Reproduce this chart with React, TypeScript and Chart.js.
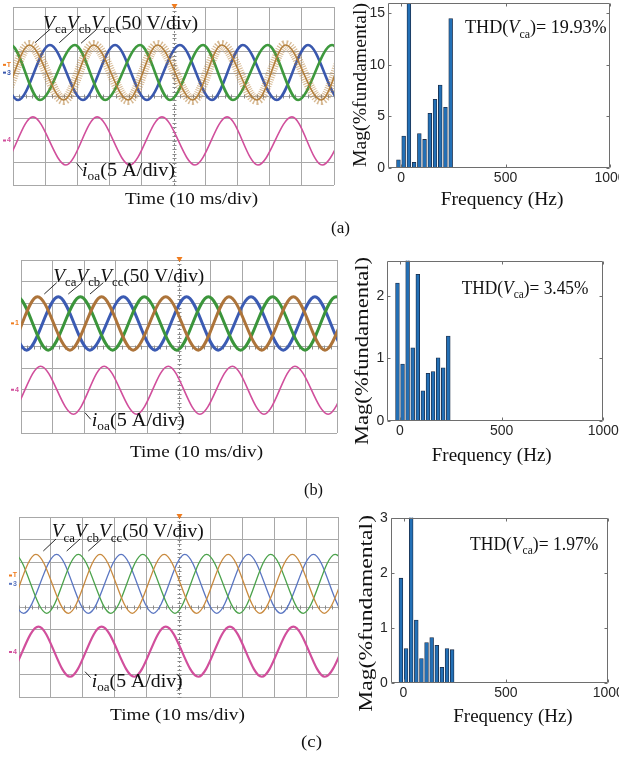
import React, { useEffect, useRef } from 'react';
import { Chart, registerables } from 'chart.js';

Chart.register(...registerables);

// ---------------- DATA ----------------
// Oscilloscope traces: times (ms) of successive extrema and their levels (div)
const A_VCA_T = [-14.3, -4.2, 5.1, 15.8, 25.1, 35.9, 45.0, 56.0, 65.0, 76.0, 84.9, 96.0, 105.0, 115.8];
const A_VCA_Y = [2.29, -0.18, 2.29, -0.18, 2.29, -0.18, 2.29, -0.18, 2.29, -0.18, 2.29, -0.18, 2.29, -0.18];
const A_VCB_T = [-18.5, -8.4, 1.6, 11.5, 21.8, 31.8, 41.7, 52.0, 62.0, 71.6, 82.2, 91.9, 102.0, 111.9];
const A_VCB_Y = [-0.18, 2.29, -0.18, 2.29, -0.18, 2.29, -0.18, 2.29, -0.18, 2.29, -0.18, 2.29, -0.18, 2.29];
const A_VCC_T = [-10.8, -0.7, 8.4, 19.3, 28.7, 39.6, 48.9, 59.2, 68.5, 79.4, 88.8, 99.4, 108.8, 119.4];
const A_VCC_Y = [-0.18, 2.29, -0.18, 2.29, -0.18, 2.29, -0.18, 2.29, -0.18, 2.29, -0.18, 2.29, -0.18, 2.29];
const A_IOA_T = [-13.7, -3.6, 6.2, 16.5, 26.2, 36.4, 46.4, 56.7, 66.7, 76.3, 86.9, 96.3, 106.9, 116.3];
const A_IOA_Y = [-0.94, -3.1, -0.94, -3.1, -0.94, -3.1, -0.94, -3.1, -0.94, -3.1, -0.94, -3.1, -0.94, -3.1];

const B_VCA_T = [-14.6, -4.5, 5.2, 15.5, 25.5, 35.5, 45.8, 56.1, 65.8, 76.2, 86.2, 96.2, 106.0, 116.2];
const B_VCA_Y = [2.3, -0.17, 2.3, -0.17, 2.3, -0.17, 2.3, -0.17, 2.3, -0.17, 2.3, -0.17, 2.3, -0.17];
const B_VCB_T = [-18.3, -8.2, 1.8, 11.8, 21.8, 32.4, 42.4, 52.4, 62.4, 72.8, 83.0, 93.0, 103.0, 113.0];
const B_VCB_Y = [-0.17, 2.3, -0.17, 2.3, -0.17, 2.3, -0.17, 2.3, -0.17, 2.3, -0.17, 2.3, -0.17, 2.3];
const B_VCC_T = [-11.3, -1.2, 8.6, 18.8, 29.0, 39.0, 49.3, 59.3, 69.5, 79.6, 89.9, 99.7, 110.0, 119.8];
const B_VCC_Y = [-0.17, 2.3, -0.17, 2.3, -0.17, 2.3, -0.17, 2.3, -0.17, 2.3, -0.17, 2.3, -0.17, 2.3];
const B_IOA_T = [-13.9, -3.8, 6.2, 16.6, 26.3, 36.6, 46.6, 56.6, 66.9, 76.9, 86.7, 97.2, 107.0, 117.2];
const B_IOA_Y = [-0.91, -3.13, -0.91, -3.13, -0.91, -3.13, -0.91, -3.13, -0.91, -3.13, -0.91, -3.13, -0.91, -3.13];

const C_VCA_T = [-14.7, -4.6, 5.3, 15.5, 25.4, 35.5, 45.5, 55.7, 65.6, 75.5, 85.7, 95.7, 105.8, 115.8];
const C_VCA_Y = [2.34, -0.28, 2.34, -0.28, 2.34, -0.28, 2.34, -0.28, 2.34, -0.28, 2.34, -0.28, 2.34, -0.28];
const C_VCB_T = [-18.4, -8.3, 1.4, 11.8, 21.7, 32.0, 42.1, 52.0, 62.0, 71.9, 82.1, 92.3, 102.3, 112.4];
const C_VCB_Y = [-0.28, 2.34, -0.28, 2.34, -0.28, 2.34, -0.28, 2.34, -0.28, 2.34, -0.28, 2.34, -0.28, 2.34];
const C_VCC_T = [-11.5, -1.4, 8.7, 18.6, 28.8, 38.8, 48.9, 58.8, 69.1, 78.9, 89.1, 99.1, 109.2, 119.1];
const C_VCC_Y = [-0.28, 2.34, -0.28, 2.34, -0.28, 2.34, -0.28, 2.34, -0.28, 2.34, -0.28, 2.34, -0.28, 2.34];
const C_IOA_T = [-14.1, -4.0, 6.1, 16.0, 25.9, 36.1, 46.0, 56.2, 66.1, 76.1, 86.0, 95.9, 106.0, 115.9];
const C_IOA_Y = [-0.87, -3.1, -0.87, -3.1, -0.87, -3.1, -0.87, -3.1, -0.87, -3.1, -0.87, -3.1, -0.87, -3.1];

// Scope axes
const SCOPE_T_MIN = 0;
const SCOPE_T_MAX = 100; // 10 divisions x 10 ms
const SCOPE_DIV_MIN = -4;
const SCOPE_DIV_MAX = 4;

// Harmonic spectra
const FREQ_HZ = [-12.5, 12.5, 37.5, 62.5, 87.5, 112.5, 137.5, 162.5, 187.5, 212.5, 237.5];
const A_MAG = [0.8, 3.1, 100, 0.55, 3.34, 2.77, 5.3, 6.66, 8.04, 5.88, 14.5];
const B_MAG = [2.21, 0.91, 100, 1.17, 2.35, 0.48, 0.76, 0.79, 1.01, 0.85, 1.36];
const C_MAG = [1.9, 0.62, 100, 1.14, 0.44, 0.73, 0.82, 0.68, 0.28, 0.62, 0.6];
const FREQ_TICKS = [0, 500, 1000];
const A_MAG_TICKS = [0, 5, 10, 15];
const B_MAG_TICKS = [0, 1, 2];
const C_MAG_TICKS = [0, 1, 2, 3];
const A_MAG_MAX = 16;
const B_MAG_MAX = 2.57;
const C_MAG_MAX = 3;
const FREQ_MIN = -62.5;
const FREQ_MAX = 1000;

const THD_A = '19.93%';
const THD_B = '3.45%';
const THD_C = '1.97%';

// ---------------- STYLE ----------------
const SERIF = '"Liberation Serif", "Times New Roman", serif';
const SANS = '"Liberation Sans", Arial, sans-serif';
const GRID = '#a8a8a8';

type Run = { t: string; i?: boolean; s?: boolean };
type TextItem = { runs: Run[]; x: number; y: number; size: number; width: number; rot?: boolean };
type Seg = [number, number, number, number];

const VLABEL: Run[] = [
  { t: 'V', i: true }, { t: 'ca', s: true },
  { t: 'V', i: true }, { t: 'cb', s: true },
  { t: 'V', i: true }, { t: 'cc', s: true },
  { t: '(50 V/div)' },
];
const ILABEL: Run[] = [{ t: 'i', i: true }, { t: 'oa', s: true }, { t: '(5 A/div)' }];
const TIME: Run[] = [{ t: 'Time (10 ms/div)' }];
const FREQ_LABEL: Run[] = [{ t: 'Frequency (Hz)' }];
const MAG_LABEL: Run[] = [{ t: 'Mag(%fundamental)' }];
const thdRuns = (v: string): Run[] => [{ t: 'THD(' }, { t: 'V', i: true }, { t: 'ca', s: true }, { t: ')= ' + v }];

function runFont(r: Run, size: number) {
  const sz = r.s ? size * 0.66 : size;
  return `${r.i ? 'italic ' : ''}${sz}px ${SERIF}`;
}

function drawTextItem(ctx: CanvasRenderingContext2D, it: TextItem, ox: number, oy: number) {
  ctx.save();
  let total = 0;
  const widths = it.runs.map((r) => {
    ctx.font = runFont(r, it.size);
    const w = ctx.measureText(r.t).width;
    total += w;
    return w;
  });
  const sx = it.width / total;
  ctx.translate(it.x - ox, it.y - oy);
  if (it.rot) ctx.rotate(-Math.PI / 2);
  ctx.scale(sx, 1);
  ctx.fillStyle = '#111';
  ctx.textBaseline = 'alphabetic';
  ctx.textAlign = 'left';
  let cx = 0;
  it.runs.forEach((r, k) => {
    ctx.font = runFont(r, it.size);
    ctx.fillText(r.t, cx, r.s ? it.size * 0.24 : 0);
    cx += widths[k];
  });
  ctx.restore();
}

function fixSize(size: number) {
  return (s: any) => {
    if (s.isHorizontal()) s.height = size;
    else s.width = size;
    s.paddingLeft = 0;
    s.paddingRight = 0;
    s.paddingTop = 0;
    s.paddingBottom = 0;
  };
}

type Wave = { t: number[]; y: number[]; color: string; width: number; dash?: number[] };
type Mark = { label: string; color: string; div: number };

type ScopeSpec = {
  kind: 'scope';
  left: number; top: number; w: number; h: number;
  pad: { left: number; right: number; top: number };
  xH: number;
  waves: Wave[];
  texts: TextItem[];
  segs: Seg[];
  marks: Mark[];
};

type BarSpec = {
  kind: 'bar';
  left: number; top: number; w: number; h: number;
  pad: { right: number; top: number };
  yW: number; xH: number;
  mag: number[]; yTicks: number[]; yMax: number;
  texts: TextItem[];
};

const BROWN_A = '#b3803e';
const BLUE_A = '#3a58ae';
const GREEN_A = '#3e993e';
const PINK = '#d14f9c';
const ORANGE = '#f07c1e';

const PANELS: (ScopeSpec | BarSpec)[] = [
  {
    kind: 'scope', left: 0, top: 0, w: 350, h: 245,
    pad: { left: 13, right: 16, top: 7 }, xH: 60,
    waves: [
      { t: A_VCA_T, y: A_VCA_Y, color: 'rgba(180,125,55,0.55)', width: 10, dash: [1, 1.3] },
      { t: A_VCA_T, y: A_VCA_Y, color: BROWN_A, width: 1.6 },
      { t: A_VCC_T, y: A_VCC_Y, color: GREEN_A, width: 2.6 },
      { t: A_VCB_T, y: A_VCB_Y, color: BLUE_A, width: 2.6 },
      { t: A_IOA_T, y: A_IOA_Y, color: PINK, width: 1.6 },
    ],
    texts: [
      { runs: VLABEL, x: 43, y: 28.5, size: 18, width: 155 },
      { runs: ILABEL, x: 82, y: 176, size: 18, width: 93 },
      { runs: TIME, x: 125, y: 204, size: 17, width: 133 },
      { runs: [{ t: '(a)' }], x: 331, y: 233, size: 17, width: 19 },
    ],
    segs: [[35, 42.7, 50, 29.3], [59.3, 42.7, 74, 29.3], [81, 43.3, 96.7, 29.3], [76.7, 163.3, 82.7, 170.7]],
    marks: [{ label: 'T', color: ORANGE, div: 1.4 }, { label: '3', color: BLUE_A, div: 1.05 }, { label: '4', color: PINK, div: -2.0 }],
  },
  {
    kind: 'bar', left: 350, top: 0, w: 269, h: 245,
    pad: { right: 9, top: 3 }, yW: 38, xH: 77,
    mag: A_MAG, yTicks: A_MAG_TICKS, yMax: A_MAG_MAX,
    texts: [
      { runs: thdRuns(THD_A), x: 465, y: 33.3, size: 19, width: 141.7 },
      { runs: FREQ_LABEL, x: 440.7, y: 205, size: 19, width: 122.7 },
      { runs: MAG_LABEL, x: 366, y: 167, size: 19.5, width: 164, rot: true },
    ],
  },
  {
    kind: 'scope', left: 0, top: 245, w: 350, h: 255,
    pad: { left: 21, right: 13, top: 15 }, xH: 67,
    waves: [
      { t: B_VCA_T, y: B_VCA_Y, color: '#ad743a', width: 3 },
      { t: B_VCC_T, y: B_VCC_Y, color: '#3b953b', width: 3 },
      { t: B_VCB_T, y: B_VCB_Y, color: '#3b5bb3', width: 3 },
      { t: B_IOA_T, y: B_IOA_Y, color: PINK, width: 1.6 },
    ],
    texts: [
      { runs: VLABEL, x: 53.3, y: 281.7, size: 18, width: 151 },
      { runs: ILABEL, x: 91.7, y: 425.7, size: 18, width: 93 },
      { runs: TIME, x: 130, y: 456.7, size: 17, width: 133 },
      { runs: [{ t: '(b)' }], x: 304, y: 495, size: 17, width: 19 },
    ],
    segs: [[44.3, 294, 56.7, 282.7], [68.3, 294, 81.7, 282.7], [90, 294, 103.3, 282.7], [85, 412.7, 90.7, 419.3]],
    marks: [{ label: '1', color: ORANGE, div: 1.07 }, { label: '4', color: PINK, div: -2.0 }],
  },
  {
    kind: 'bar', left: 350, top: 245, w: 269, h: 255,
    pad: { right: 15.7, top: 15.7 }, yW: 37.3, xH: 79.3,
    mag: B_MAG, yTicks: B_MAG_TICKS, yMax: B_MAG_MAX,
    texts: [
      { runs: thdRuns(THD_B), x: 461.7, y: 294, size: 18.5, width: 126.7 },
      { runs: FREQ_LABEL, x: 431.7, y: 460.7, size: 19, width: 120 },
      { runs: MAG_LABEL, x: 368.3, y: 445, size: 18.5, width: 188, rot: true },
    ],
  },
  {
    kind: 'scope', left: 0, top: 500, w: 350, h: 258,
    pad: { left: 19, right: 12, top: 17 }, xH: 61,
    waves: [
      { t: C_VCA_T, y: C_VCA_Y, color: '#c98a3e', width: 1.3 },
      { t: C_VCC_T, y: C_VCC_Y, color: '#4ba24b', width: 1.3 },
      { t: C_VCB_T, y: C_VCB_Y, color: '#5a76c2', width: 1.3 },
      { t: C_IOA_T, y: C_IOA_Y, color: PINK, width: 2.2 },
    ],
    texts: [
      { runs: VLABEL, x: 51.7, y: 537.3, size: 18, width: 152 },
      { runs: ILABEL, x: 91.7, y: 686.7, size: 18, width: 91 },
      { runs: TIME, x: 110, y: 720, size: 17, width: 135 },
      { runs: [{ t: '(c)' }], x: 301, y: 747, size: 17, width: 21 },
    ],
    segs: [[43.3, 551, 56, 539], [66.7, 551, 80, 539], [88.3, 551, 101.7, 539], [85, 671.7, 90.7, 677.7]],
    marks: [{ label: 'T', color: ORANGE, div: 1.4 }, { label: '3', color: '#5a76c2', div: 1.03 }, { label: '4', color: PINK, div: -2.0 }],
  },
  {
    kind: 'bar', left: 350, top: 500, w: 269, h: 258,
    pad: { right: 10.7, top: 17.7 }, yW: 40.7, xH: 75.3,
    mag: C_MAG, yTicks: C_MAG_TICKS, yMax: C_MAG_MAX,
    texts: [
      { runs: thdRuns(THD_C), x: 470, y: 550, size: 18.5, width: 128.3 },
      { runs: FREQ_LABEL, x: 453.3, y: 722.3, size: 19, width: 119.3 },
      { runs: MAG_LABEL, x: 372, y: 711.7, size: 19, width: 196.7, rot: true },
    ],
  },
];

function scopeConfig(p: ScopeSpec): any {
  const deco = {
    id: 'scopeDeco',
    beforeDatasetsDraw(chart: any) {
      const ctx: CanvasRenderingContext2D = chart.ctx;
      const { top, bottom, left } = chart.chartArea;
      const xs = chart.scales.x;
      const ys = chart.scales.y;
      const cx = Math.round(xs.getPixelForValue((SCOPE_T_MIN + SCOPE_T_MAX) / 2)) + 0.5;
      const cy = Math.round(ys.getPixelForValue(0)) + 0.5;
      ctx.save();
      ctx.strokeStyle = '#8a8a8a';
      ctx.lineWidth = 1;
      ctx.setLineDash([2, 2]);
      ctx.beginPath();
      ctx.moveTo(cx, top);
      ctx.lineTo(cx, bottom);
      ctx.stroke();
      ctx.setLineDash([]);
      ctx.beginPath();
      for (let k = -20; k <= 20; k++) {
        const y = Math.round(ys.getPixelForValue(k * 0.2)) + 0.5;
        ctx.moveTo(cx - 2, y);
        ctx.lineTo(cx + 2, y);
      }
      for (let k = 0; k <= 50; k++) {
        const x = Math.round(xs.getPixelForValue(k * 2)) + 0.5;
        ctx.moveTo(x, cy - 2);
        ctx.lineTo(x, cy + 2);
      }
      ctx.stroke();
      // trigger position marker
      ctx.fillStyle = ORANGE;
      ctx.beginPath();
      ctx.moveTo(cx - 3, top - 3);
      ctx.lineTo(cx + 3, top - 3);
      ctx.lineTo(cx, top + 2);
      ctx.closePath();
      ctx.fill();
      // channel markers
      ctx.font = `bold 7px ${SANS}`;
      ctx.textAlign = 'center';
      ctx.textBaseline = 'middle';
      p.marks.forEach((m) => {
        const y = ys.getPixelForValue(m.div);
        ctx.fillStyle = m.color;
        ctx.fillText(m.label, left - 4, y);
        ctx.fillRect(left - 10, y - 1, 3, 2);
      });
      ctx.restore();
    },
    afterDraw(chart: any) {
      const ctx: CanvasRenderingContext2D = chart.ctx;
      ctx.save();
      ctx.strokeStyle = '#111';
      ctx.lineWidth = 0.9;
      ctx.beginPath();
      p.segs.forEach((s) => {
        ctx.moveTo(s[0] - p.left, s[1] - p.top);
        ctx.lineTo(s[2] - p.left, s[3] - p.top);
      });
      ctx.stroke();
      ctx.restore();
      p.texts.forEach((t) => drawTextItem(ctx, t, p.left, p.top));
    },
  };
  return {
    type: 'line',
    data: {
      datasets: p.waves.map((w) => ({
        data: w.t.map((t, i) => ({ x: t, y: w.y[i] })),
        borderColor: w.color,
        borderWidth: w.width,
        borderDash: w.dash || [],
        pointRadius: 0,
        fill: false,
        cubicInterpolationMode: 'monotone',
        capBezierPoints: false,
        clip: 0,
      })),
    },
    options: {
      animation: false,
      responsive: false,
      maintainAspectRatio: false,
      events: [],
      layout: { padding: { left: p.pad.left, right: p.pad.right, top: p.pad.top, bottom: 0 } },
      plugins: { legend: { display: false }, tooltip: { enabled: false }, title: { display: false } },
      scales: {
        x: {
          type: 'linear',
          afterDataLimits: (s: any) => { s.min = SCOPE_T_MIN; s.max = SCOPE_T_MAX; },
          ticks: { display: false, stepSize: 10 },
          grid: {
            color: (c: any) => (c.tick && c.tick.value === 50 ? 'rgba(0,0,0,0)' : GRID),
            lineWidth: 1,
            drawTicks: false,
          },
          border: { display: false },
          afterFit: fixSize(p.xH),
        },
        y: {
          type: 'linear',
          min: SCOPE_DIV_MIN,
          max: SCOPE_DIV_MAX,
          ticks: { display: false, stepSize: 1 },
          grid: { color: GRID, lineWidth: 1, drawTicks: false },
          border: { display: false },
          afterFit: fixSize(0),
        },
      },
    },
    plugins: [deco],
  };
}

function barConfig(p: BarSpec): any {
  const deco = {
    id: 'barDeco',
    afterDatasetsDraw(chart: any) {
      const ctx: CanvasRenderingContext2D = chart.ctx;
      const { left, right, top, bottom } = chart.chartArea;
      const xs = chart.scales.x;
      const ys = chart.scales.y;
      const L = Math.round(left) + 0.5, R = Math.round(right) - 0.5;
      const T = Math.round(top) + 0.5, B = Math.round(bottom) - 0.5;
      ctx.save();
      ctx.strokeStyle = '#6e6e6e';
      ctx.lineWidth = 1;
      ctx.beginPath();
      ctx.rect(L, T, R - L, B - T);
      p.yTicks.forEach((v) => {
        const y = Math.round(ys.getPixelForValue(v)) + 0.5;
        ctx.moveTo(L, y); ctx.lineTo(L + 3, y);
        ctx.moveTo(R, y); ctx.lineTo(R - 3, y);
      });
      FREQ_TICKS.forEach((v) => {
        const x = Math.round(xs.getPixelForValue(v)) + 0.5;
        ctx.moveTo(x, B); ctx.lineTo(x, B - 3);
        ctx.moveTo(x, T); ctx.lineTo(x, T + 3);
      });
      ctx.stroke();
      ctx.restore();
    },
    afterDraw(chart: any) {
      p.texts.forEach((t) => drawTextItem(chart.ctx, t, p.left, p.top));
    },
  };
  return {
    type: 'bar',
    data: {
      datasets: [
        {
          data: FREQ_HZ.map((f, i) => ({ x: f, y: p.mag[i] })),
          backgroundColor: '#2370b6',
          borderColor: '#1a2a44',
          borderWidth: 0.8,
          borderSkipped: 'start',
          barThickness: 3.8,
          clip: 0,
        },
      ],
    },
    options: {
      animation: false,
      responsive: false,
      maintainAspectRatio: false,
      events: [],
      layout: { padding: { left: 0, right: p.pad.right, top: p.pad.top, bottom: 0 } },
      plugins: { legend: { display: false }, tooltip: { enabled: false }, title: { display: false } },
      scales: {
        x: {
          type: 'linear',
          min: FREQ_MIN,
          max: FREQ_MAX,
          offset: false,
          grid: { display: false, offset: false, drawTicks: false },
          border: { display: false },
          ticks: {
            font: { size: 14, family: SANS },
            color: '#262626',
            padding: 2,
            maxRotation: 0,
            autoSkip: false,
            callback: (v: any) => String(v),
          },
          afterBuildTicks: (s: any) => { s.ticks = FREQ_TICKS.map((v) => ({ value: v })); },
          afterFit: fixSize(p.xH),
        },
        y: {
          type: 'linear',
          min: 0,
          max: p.yMax,
          grid: { display: false, drawTicks: false },
          border: { display: false },
          ticks: {
            font: { size: 14, family: SANS },
            color: '#262626',
            padding: 3,
            autoSkip: false,
            callback: (v: any) => String(v),
          },
          afterBuildTicks: (s: any) => { s.ticks = p.yTicks.map((v) => ({ value: v })); },
          afterFit: fixSize(p.yW),
        },
      },
    },
    plugins: [deco],
  };
}

export default function App() {
  const refs = useRef<(HTMLCanvasElement | null)[]>([]);
  useEffect(() => {
    const charts = PANELS.map((p, i) =>
      new Chart(refs.current[i] as HTMLCanvasElement, p.kind === 'scope' ? scopeConfig(p as ScopeSpec) : barConfig(p as BarSpec))
    );
    return () => charts.forEach((c) => c.destroy());
  }, []);
  return (
    <div style={{ position: 'absolute', left: 0, top: 0, width: 619, height: 758, background: '#fff', overflow: 'hidden' }}>
      {PANELS.map((p, i) => (
        <canvas
          key={i}
          ref={(el) => { refs.current[i] = el; }}
          width={p.w}
          height={p.h}
          style={{ position: 'absolute', left: p.left, top: p.top, width: p.w, height: p.h }}
        />
      ))}
    </div>
  );
}
